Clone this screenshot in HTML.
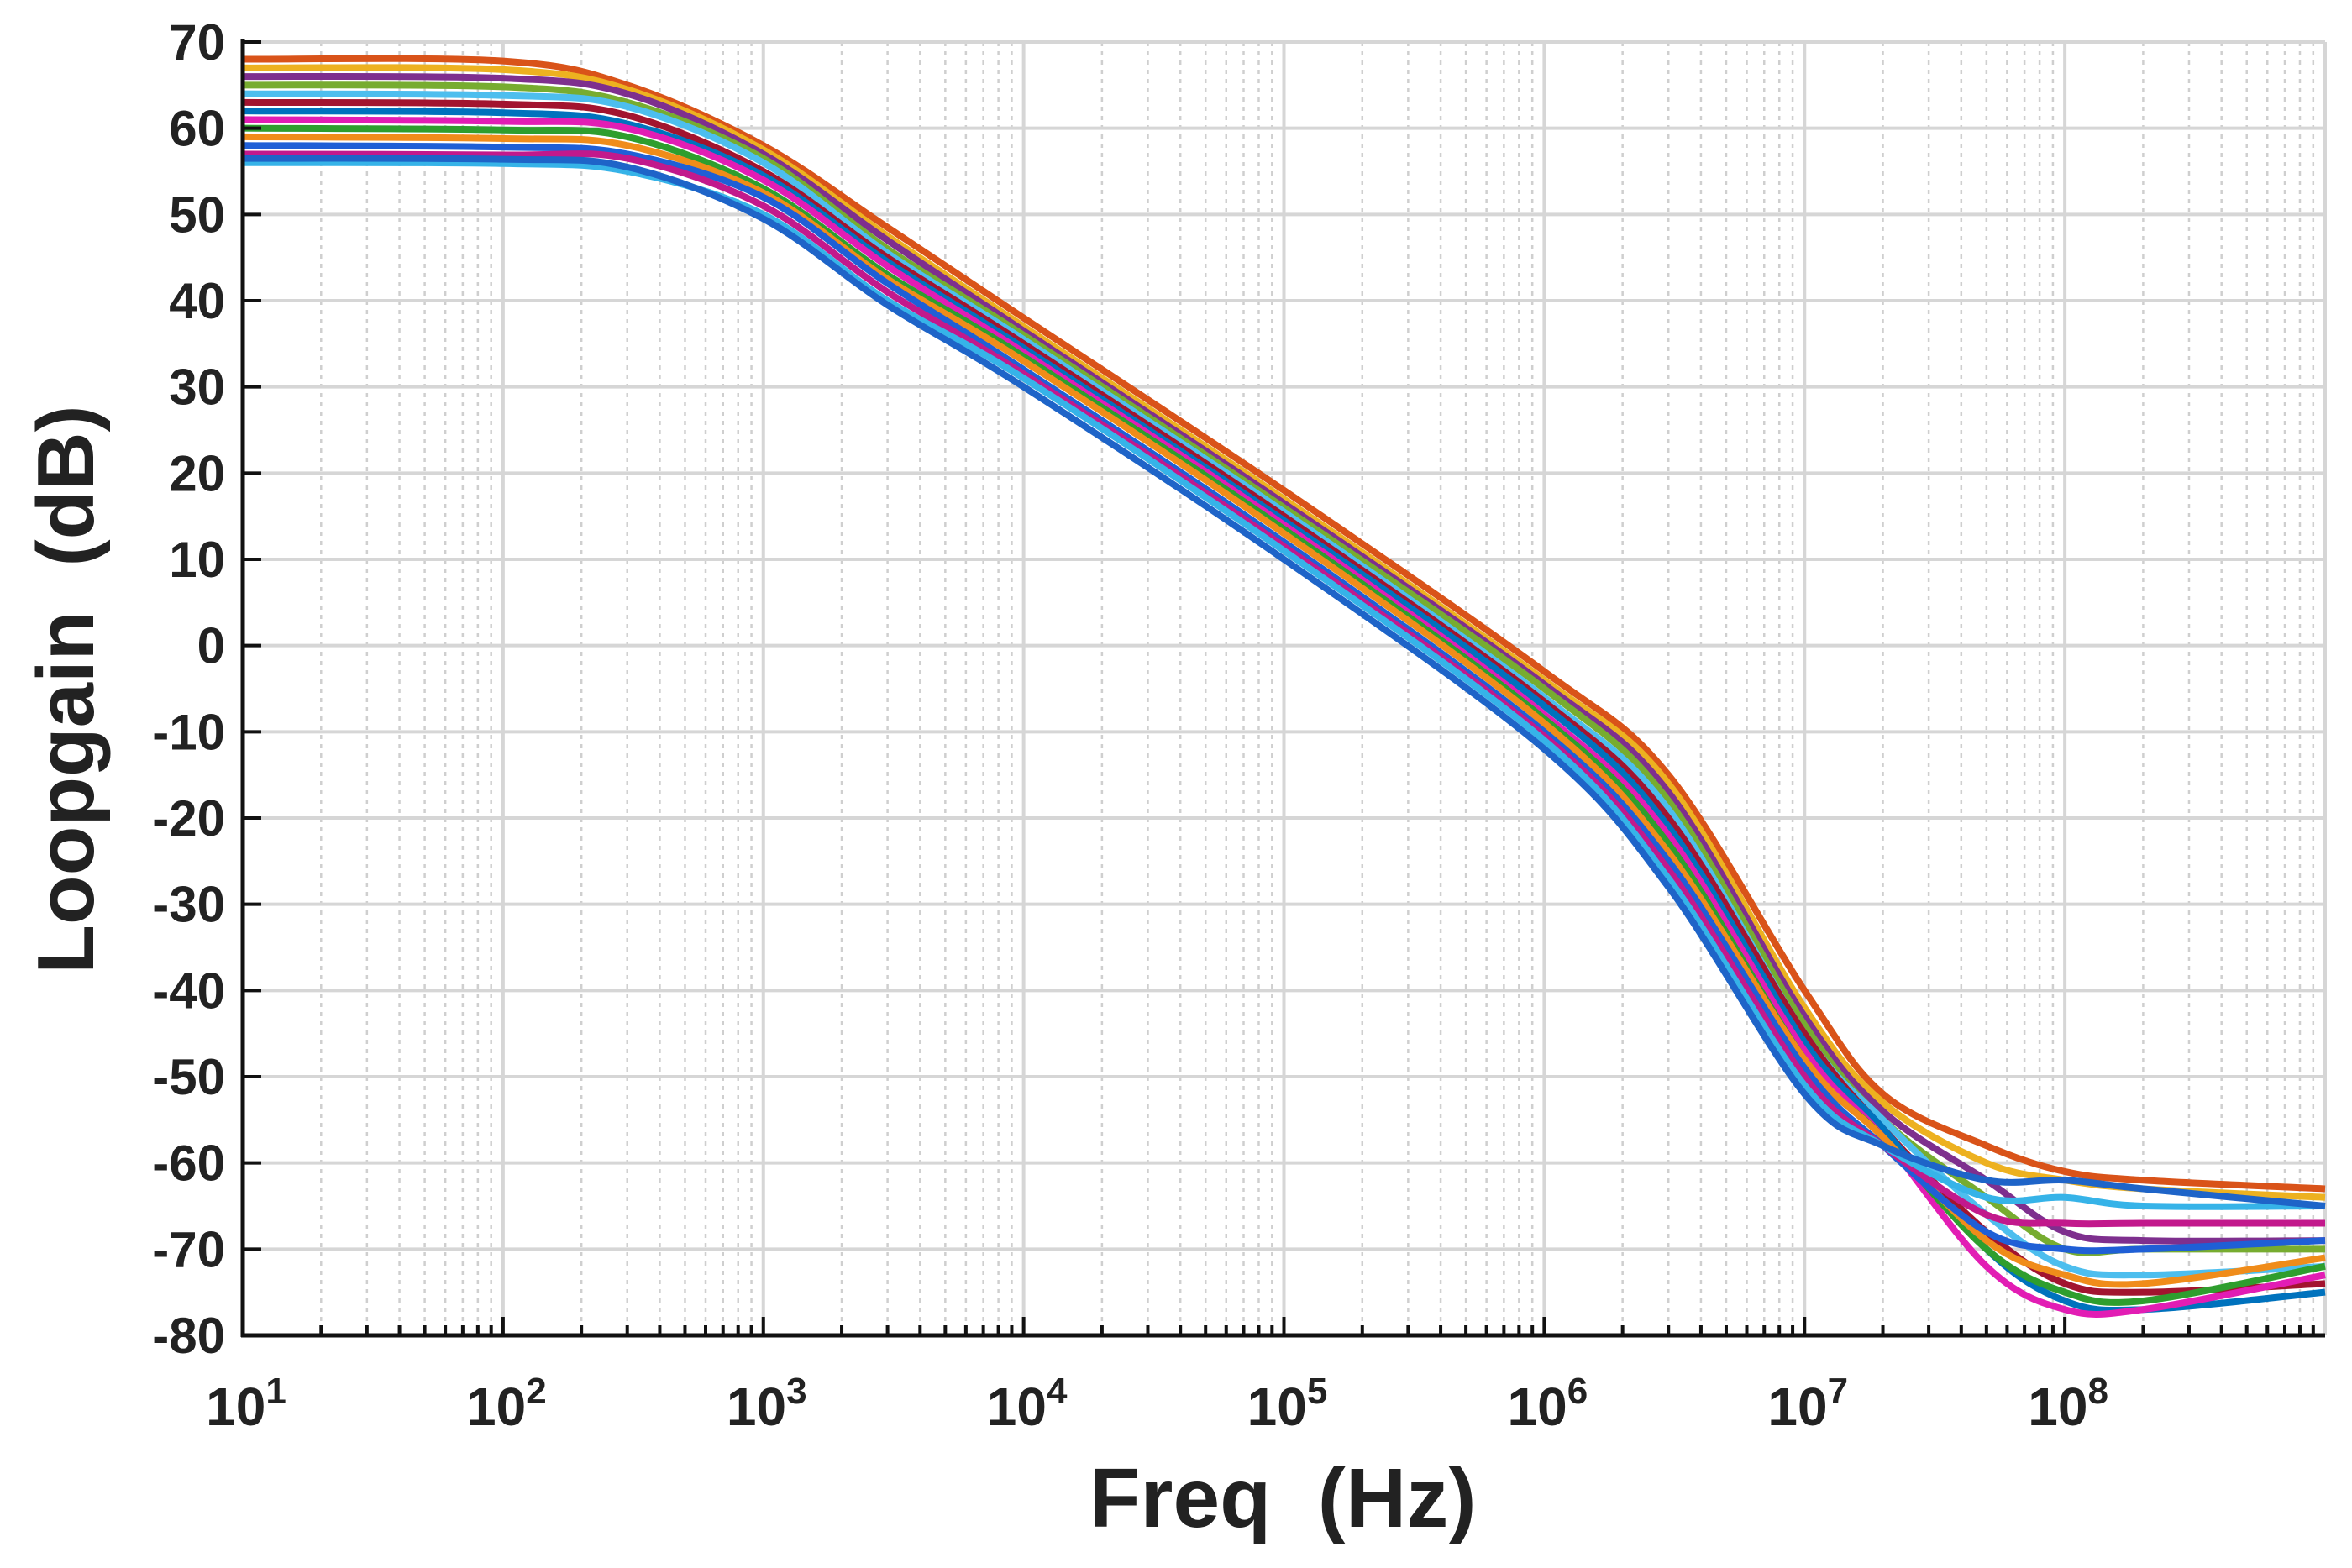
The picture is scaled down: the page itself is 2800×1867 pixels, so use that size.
<!DOCTYPE html>
<html><head><meta charset="utf-8"><style>
html,body{margin:0;padding:0;background:#fff;}
svg text{font-family:"Liberation Sans",Arial,sans-serif;font-weight:bold;fill:#222;}
</style></head><body>
<svg id="chart" width="2800" height="1862" viewBox="0 0 2800 1862" xmlns="http://www.w3.org/2000/svg">
<rect width="2800" height="1862" fill="#fff"/>
<g id="grid"></g>
<g id="series"></g>
<g id="axes"></g>
<text x="1527" y="1818" font-size="100" text-anchor="middle">Freq&#160;&#160;(Hz)</text>
<text transform="translate(111,821) rotate(-90)" font-size="96" text-anchor="middle">Loopgain&#160;&#160;(dB)</text>
</svg>
<script>
const freqs = [10,100,300,1e3,3e3,1e4,1e5,1e6,3e6,1e7,2e7,5e7,1e8,2e8,1e9];
const s1 = [68,67.8,65,58,48.5,38,18,-3,-15,-40,-52,-58,-61,-62,-63];
const s2 = [67,66.8,64.5,57.5,47.5,37,17,-4,-16,-42,-53,-60,-62,-63,-64];
const s3 = [66,65.8,64,57,47,36.5,16.5,-4.5,-17,-43,-54,-62,-68,-69,-69];
const s4 = [65,64.8,63,56.5,46,36,16,-5,-18,-44,-55,-64,-70,-70,-70];
const s5 = [64,63.8,62.5,56,45.5,35.5,15.5,-6,-19,-45,-55,-66,-72,-73,-72];
const s6 = [63,62.8,61.5,55,45,35,15,-6.5,-20,-45,-56,-68,-74,-75,-74];
const s7 = [62,61.8,60.5,54.5,44.5,34.5,14.5,-7,-21,-46,-56,-70,-76,-77,-75];
const s8 = [61,60.8,60,54,44,34,14,-8,-22,-47,-57,-72,-77,-77,-73];
const s9 = [60,59.8,59,53,43,33.5,13.5,-8.5,-23,-48,-57,-70,-75,-76,-72];
const s10 = [59,58.8,58,52.5,42.5,33,13,-9,-24,-48,-57,-69,-73,-74,-71];
const s11 = [58,57.8,57,52,42,32,12,-10,-25,-49,-58,-68,-70,-70,-69];
const s12 = [57,56.9,56.5,51,41,31.5,11.5,-10.5,-26,-50,-58,-66,-67,-67,-67];
const s13 = [56,55.9,55,50,40,31,11,-11,-27,-51,-58,-64,-64,-65,-65];
const s14 = [56.5,56.4,55.5,49.5,39.5,30,10,-12,-28,-52,-58,-62,-62,-63,-65];
const allSeries = [s1,s2,s3,s4,s5,s6,s7,s8,s9,s10,s11,s12,s13,s14];
const colors = ['#D95319','#EDB120','#7E2F8E','#77AC30','#4DBEEE','#A2142F','#0072BD','#E21DB4','#2E9E2E','#F08C1A','#1F5FD6','#C2198C','#36B3E8','#1E64C8'];
const yTicks = [70,60,50,40,30,20,10,0,-10,-20,-30,-40,-50,-60,-70,-80];
const xExps = [1,2,3,4,5,6,7,8];

const L=289,R=2768,T=50,B=1590;
const xMin=1,xMax=9,yMin=-80,yMax=70;
const xs=f=>L+(Math.log10(f)-xMin)/(xMax-xMin)*(R-L);
const ys=v=>B-(v-yMin)/(yMax-yMin)*(B-T);
const NS='http://www.w3.org/2000/svg';
function mk(tag,attrs,parent){const e=document.createElementNS(NS,tag);for(const k in attrs)e.setAttribute(k,attrs[k]);parent.appendChild(e);return e;}
const grid=document.getElementById('grid'),axes=document.getElementById('axes'),sg=document.getElementById('series');

for(let d=xMin;d<xMax;d++){for(let m=2;m<=9;m++){const x=xs(m*Math.pow(10,d));
 const l=mk('line',{x1:x,x2:x,y1:T,y2:B,stroke:'#cfcfcf','stroke-width':2.5,'stroke-dasharray':'5,6'},grid);
 
 }}
for(let d=xMin;d<=xMax;d++){const x=xs(Math.pow(10,d));
 const l=mk('line',{x1:x,x2:x,y1:T,y2:B,stroke:'#d6d6d6','stroke-width':4},grid);
 
 }
yTicks.forEach(v=>{const y=ys(v);
 const l=mk('line',{x1:L,x2:R,y1:y,y2:y,stroke:'#d6d6d6','stroke-width':4},grid);
 
 });

function pathFor(vals){
 const p=freqs.map((f,i)=>[xs(f),ys(vals[i])]);
 let d='M'+p[0][0]+','+p[0][1];
 for(let i=0;i<p.length-1;i++){
  const p0=p[Math.max(0,i-1)],p1=p[i],p2=p[i+1],p3=p[Math.min(p.length-1,i+2)];
  const c1x=p1[0]+(p2[0]-p0[0])/6,c1y=p1[1]+(p2[1]-p0[1])/6;
  const c2x=p2[0]-(p3[0]-p1[0])/6,c2y=p2[1]-(p3[1]-p1[1])/6;
  d+=' C'+c1x+','+c1y+' '+c2x+','+c2y+' '+p2[0]+','+p2[1];}
 return d;}
allSeries.forEach((vals,i)=>{
 const e=mk('path',{d:pathFor(vals),fill:'none',stroke:colors[i%colors.length],'stroke-width':8,'stroke-linejoin':'round'},sg);
 
 });

const ax1=mk('line',{x1:L,x2:L,y1:T-3,y2:B+2,stroke:'#111','stroke-width':5},axes);


const ax2=mk('line',{x1:L-2,x2:R,y1:B,y2:B,stroke:'#111','stroke-width':5},axes);



yTicks.forEach(v=>{const y=ys(v);
 const t=mk('line',{x1:L,x2:L+22,y1:y,y2:y,stroke:'#111','stroke-width':4},axes);
 
 
 const tx=mk('text',{x:268,y:y+21,'font-size':60,'text-anchor':'end'},axes);
 tx.textContent=String(v);
 
 });
for(let d=xMin;d<xMax;d++){for(let m=1;m<=9;m++){const x=xs(m*Math.pow(10,d));const len=m===1?22:12;
 const t=mk('line',{x1:x,x2:x,y1:B,y2:B-len,stroke:'#111','stroke-width':4},axes);
 
 }}
xExps.forEach(e=>{const x=xs(Math.pow(10,e));
 const tx=mk('text',{x:x+4,y:1697,'font-size':64,'text-anchor':'middle'},axes);
 
 
 const a=document.createElementNS(NS,'tspan');a.textContent='10';tx.appendChild(a);
 const b=document.createElementNS(NS,'tspan');b.setAttribute('dy','-26');b.setAttribute('font-size','44');b.textContent=String(e);tx.appendChild(b);});
</script>
</body></html>
